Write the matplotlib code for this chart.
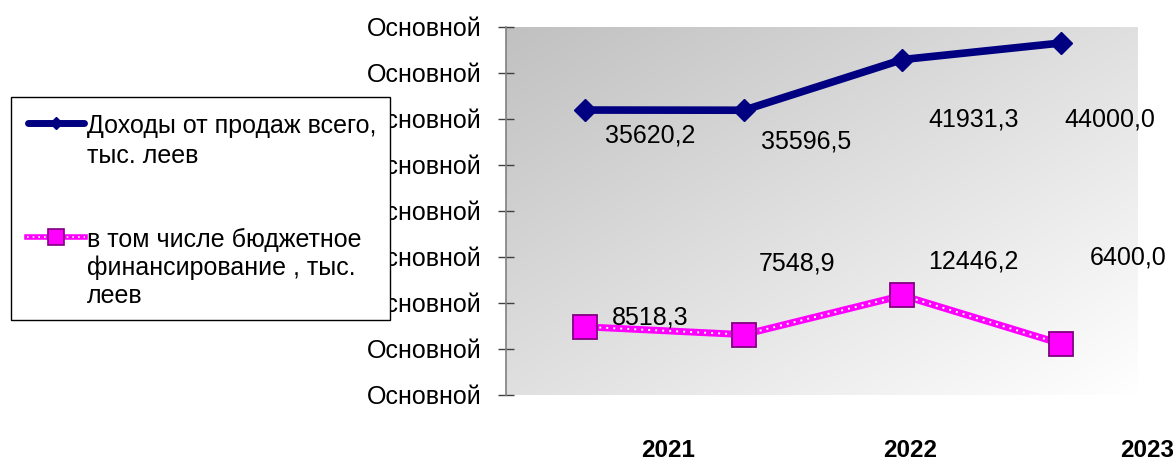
import numpy as np
import matplotlib
matplotlib.use("Agg")
import matplotlib.pyplot as plt
from matplotlib.lines import Line2D
from matplotlib.patches import Rectangle

# ---- data -------------------------------------------------------------
years = ["2021", "2022", "2023"]
income_total = [35620.2, 35596.5, 41931.3, 44000.0]
budget_funding = [8518.3, 7548.9, 12446.2, 6400.0]
series_names = [
    "Доходы от продаж всего,\nтыс. леев",
    "в том числе бюджетное\nфинансирование , тыс.\nлеев",
]
y_tick_text = "Основной"

# ---- layout (pixels of a 1173 x 463 canvas) ---------------------------
W, H = 1173, 463
plt.rcParams["font.family"] = ["Liberation Sans", "DejaVu Sans"]

fig = plt.figure(figsize=(W / 100, H / 100), dpi=100)


def fx(x):
    return x / W


def fy(y):
    return 1 - y / H


rect = [fx(506), fy(395), fx(1138) - fx(506), fy(27) - fy(395)]

# gradient backdrop of the plotting area
bg = fig.add_axes(rect, zorder=0)
n = 300
u = np.linspace(0, 1, n)
uu, rr = np.meshgrid(u, u)
t = (uu + rr) / 2
g = 0.755 + 0.245 * t
bg.imshow(np.dstack([g, g, g]), extent=(0, 1, 0, 1), aspect="auto",
          interpolation="bilinear")
bg.set_axis_off()

ax = fig.add_axes(rect, zorder=1)
ax.set_facecolor("none")

NAVY = "#000080"
MAGENTA = "#ff00ff"
PURPLE = "#800080"

x = np.arange(len(income_total))

ax.plot(x, income_total, color=NAVY, lw=5.5, solid_capstyle="round",
        solid_joinstyle="round", marker="D", ms=11, mfc=NAVY, mec=NAVY,
        zorder=3)

ax.plot(x, budget_funding, color=MAGENTA, lw=5, solid_capstyle="butt", zorder=3)
ax.plot(x, budget_funding, color="white", lw=1.4, dashes=(1, 2.6), zorder=3.1)
ax.plot(x, budget_funding, ls="none", marker="s", ms=17, mfc=MAGENTA,
        mec=PURPLE, mew=1.3, zorder=4)

ax.set_xlim(-0.5, 3.485)
ymax = 46000
ax.set_ylim(0, ymax)
ax.set_yticks(np.linspace(0, ymax, 9))
ax.set_yticklabels([y_tick_text] * 9, fontsize=18)
ax.tick_params(axis="y", direction="inout", length=11.5, width=1,
               color="#404040", pad=12)
ax.set_xticks([])
for side in ("top", "right", "bottom"):
    ax.spines[side].set_visible(False)
ax.spines["left"].set_color("#808080")
ax.spines["left"].set_linewidth(1.2)


def fmt(v):
    return f"{v:.1f}".replace(".", ",")


# value labels (center x, baseline y in pixels)
income_label_pos = [(650, 143), (806, 149), (974, 127), (1110, 127)]
budget_label_pos = [(650, 325), (797, 271), (973, 269), (1128, 264)]
for v, (cx, by) in zip(income_total, income_label_pos):
    fig.text(fx(cx), fy(by), fmt(v), ha="center", va="baseline",
             fontsize=18, zorder=6)
for v, (cx, by) in zip(budget_funding, budget_label_pos):
    fig.text(fx(cx), fy(by), fmt(v), ha="center", va="baseline",
             fontsize=18, zorder=6)

# category labels along the bottom
year_pos = [668, 910, 1147]
for yr, cx in zip(years, year_pos):
    fig.text(fx(cx), fy(457), yr, ha="center", va="baseline", fontsize=17.5,
             fontweight="bold",
             family=["Liberation Sans Narrow", "Liberation Sans"], zorder=6)

# ---- legend ------------------------------------------------------------
fig.add_artist(Rectangle((fx(11), fy(320)), fx(390) - fx(11),
                         fy(97) - fy(320), transform=fig.transFigure,
                         facecolor="white", edgecolor="black", lw=1,
                         zorder=5))

# first entry
fig.add_artist(Line2D([fx(28), fx(84)], [fy(123), fy(123)],
                      transform=fig.transFigure, color=NAVY, lw=5,
                      solid_capstyle="round", zorder=6))
fig.add_artist(Line2D([fx(56)], [fy(123)], transform=fig.transFigure,
                      ls="none", marker="D", ms=6, mfc=NAVY, mec=NAVY,
                      zorder=7))
# second entry
fig.add_artist(Line2D([fx(27), fx(85)], [fy(237), fy(237)],
                      transform=fig.transFigure, color=MAGENTA, lw=4,
                      zorder=6))
fig.add_artist(Line2D([fx(27), fx(85)], [fy(237), fy(237)],
                      transform=fig.transFigure, color="white", lw=1.2,
                      dashes=(1, 2.4), zorder=6.5))
fig.add_artist(Line2D([fx(56)], [fy(237)], transform=fig.transFigure,
                      ls="none", marker="s", ms=11, mfc=MAGENTA, mec=PURPLE,
                      mew=1.2, zorder=7))

legend_baselines = [[133, 163], [247, 275, 303]]
for name, bases in zip(series_names, legend_baselines):
    for line, by in zip(name.split("\n"), bases):
        fig.text(fx(87), fy(by), line, ha="left", va="baseline",
                 fontsize=18, zorder=7)

fig.savefig("out.png", dpi=100)
